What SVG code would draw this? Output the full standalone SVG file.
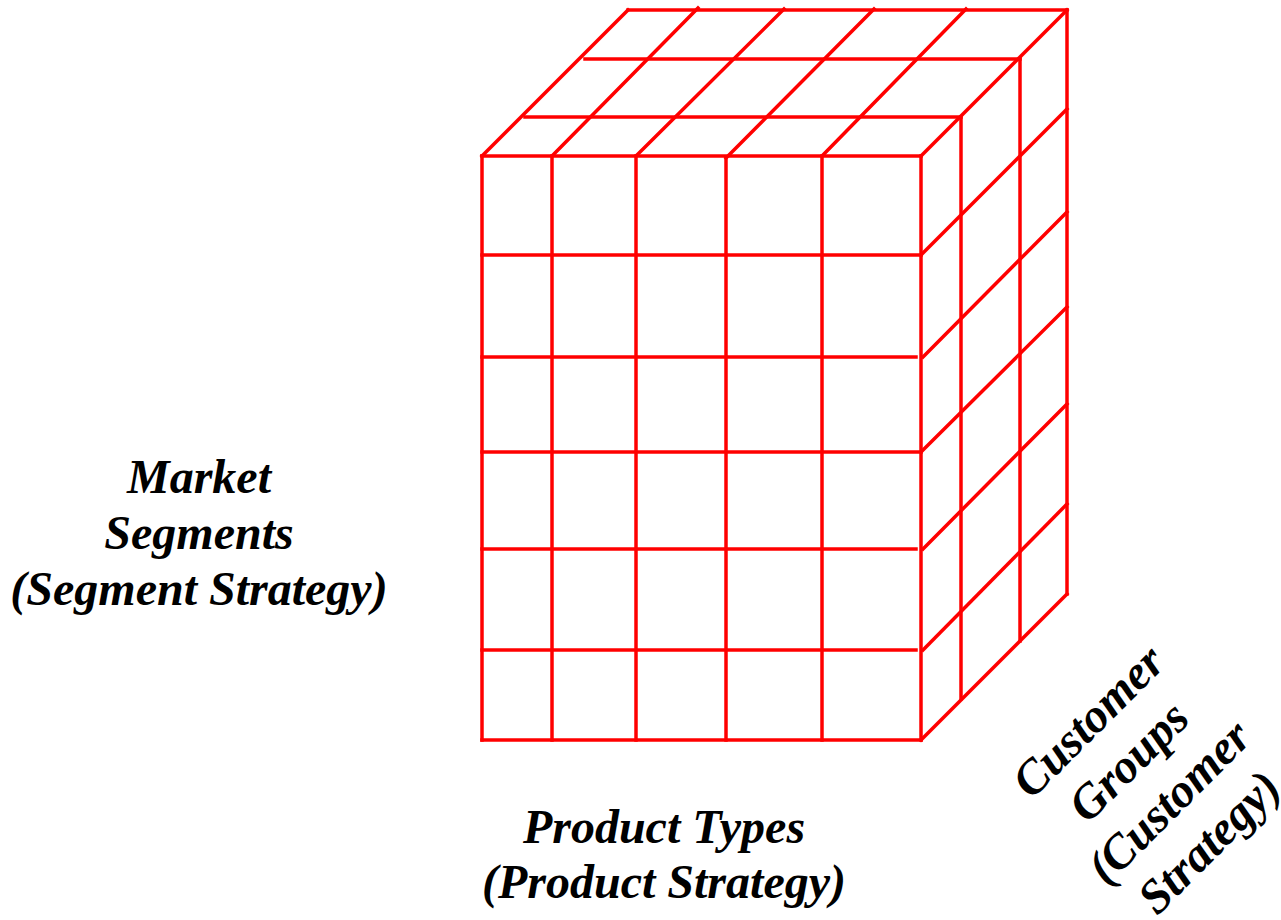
<svg xmlns="http://www.w3.org/2000/svg" width="1281" height="920" viewBox="0 0 1281 920">
<style>
.g line{stroke:#ff0000;stroke-width:3.5;stroke-linecap:square;fill:none}
.lbl{font-family:"Liberation Serif","Times New Roman",serif;font-weight:bold;font-style:italic;font-size:48px;fill:#000;text-anchor:middle}
</style>
<rect width="1281" height="920" fill="#fff"/>
<g id="front-face" class="g">
<line x1="482" y1="156" x2="482" y2="740"/>
<line x1="552" y1="156" x2="552" y2="740"/>
<line x1="636" y1="156" x2="636" y2="740"/>
<line x1="726" y1="159" x2="726" y2="740"/>
<line x1="822" y1="156" x2="822" y2="740"/>
<line x1="921" y1="156" x2="921" y2="740"/>
<line x1="482" y1="156" x2="921" y2="156"/>
<line x1="482" y1="255" x2="921" y2="255"/>
<line x1="482" y1="357" x2="916" y2="357"/>
<line x1="482" y1="452" x2="921" y2="452"/>
<line x1="482" y1="549" x2="916" y2="549"/>
<line x1="482" y1="650" x2="916" y2="650"/>
<line x1="482" y1="740" x2="921" y2="740"/>
</g>
<g id="top-face" class="g">
<line x1="628" y1="10" x2="1067" y2="10"/>
<line x1="585" y1="59" x2="1020" y2="59"/>
<line x1="525" y1="117" x2="961" y2="117"/>
<line x1="482" y1="156" x2="628" y2="10"/>
<line x1="552" y1="156" x2="698" y2="8"/>
<line x1="636" y1="156" x2="784" y2="9"/>
<line x1="726" y1="158" x2="874" y2="9"/>
<line x1="822" y1="156" x2="966" y2="9"/>
<line x1="921" y1="156" x2="1067" y2="10"/>
</g>
<g id="right-face" class="g">
<line x1="1067" y1="10" x2="1067" y2="594"/>
<line x1="1020" y1="59" x2="1020" y2="641"/>
<line x1="961" y1="117" x2="961" y2="699"/>
<line x1="921" y1="255" x2="1067" y2="109"/>
<line x1="923" y1="357" x2="1067" y2="212"/>
<line x1="921" y1="452" x2="1067" y2="307"/>
<line x1="923" y1="549" x2="1067" y2="404"/>
<line x1="923" y1="650" x2="1067" y2="504"/>
<line x1="921" y1="740" x2="1067" y2="594"/>
</g>
<g id="label-market-segments">
<text class="lbl" x="199" y="493">Market</text>
<text class="lbl" x="199" y="549">Segments</text>
<text class="lbl" x="199" y="605">(Segment Strategy)</text>
</g>
<g id="label-product-types">
<text class="lbl" x="664" y="843">Product Types</text>
<text class="lbl" x="664" y="898">(Product Strategy)</text>
</g>
<g id="label-customer-groups" transform="translate(1150,783) rotate(-45)">
<text class="lbl" x="0" y="-71.5">Customer</text>
<text class="lbl" x="0" y="-14.5">Groups</text>
<text class="lbl" x="0" y="42.5">(Customer</text>
<text class="lbl" x="0" y="99.5">Strategy)</text>
</g>
</svg>
